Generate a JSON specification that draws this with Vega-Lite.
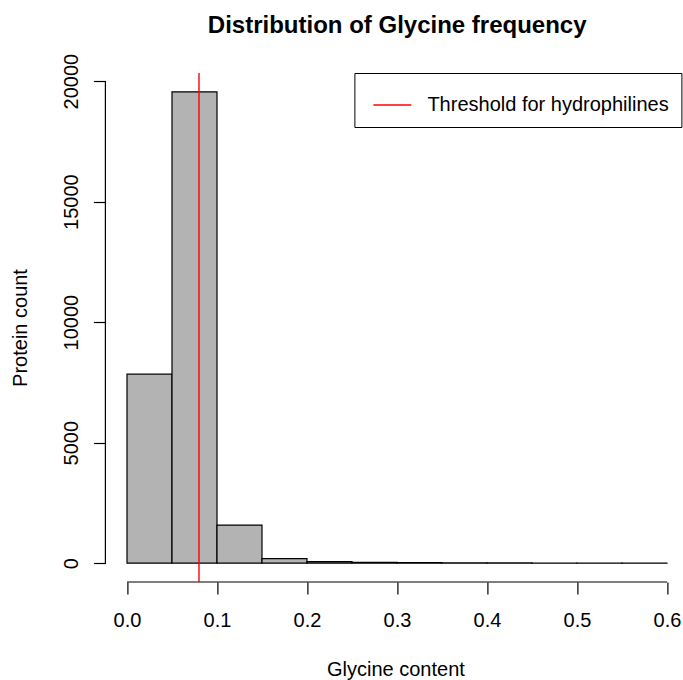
{
  "$schema": "https://vega.github.io/schema/vega-lite/v6.json",
  "width": 577.6,
  "height": 509,
  "autosize": "none",
  "padding": {"left": 105.4, "top": 73, "right": 0, "bottom": 98},
  "background": "white",
  "title": {
    "text": "Distribution of Glycine frequency",
    "font": "Liberation Sans",
    "fontSize": 24,
    "fontWeight": "bold",
    "color": "black",
    "baseline": "alphabetic",
    "offset": -4,
    "dx": 3
  },
  "config": {
    "view": {"stroke": null},
    "font": "Liberation Sans"
  },
  "datasets": {
    "bins": [
      {"start": 0.0, "end": 0.05, "count": 7840},
      {"start": 0.05, "end": 0.1, "count": 19556},
      {"start": 0.1, "end": 0.15, "count": 1580},
      {"start": 0.15, "end": 0.2, "count": 190},
      {"start": 0.2, "end": 0.25, "count": 60},
      {"start": 0.25, "end": 0.3, "count": 35},
      {"start": 0.3, "end": 0.35, "count": 20},
      {"start": 0.35, "end": 0.4, "count": 12},
      {"start": 0.4, "end": 0.45, "count": 8},
      {"start": 0.45, "end": 0.5, "count": 6},
      {"start": 0.5, "end": 0.55, "count": 3},
      {"start": 0.55, "end": 0.6, "count": 2}
    ],
    "threshold": [{"threshold": 0.08, "label": "Threshold for hydrophilines"}]
  },
  "layer": [
    {
      "data": {"name": "bins"},
      "mark": {"type": "rect", "fill": "#B3B3B3", "stroke": "black", "strokeWidth": 1.2},
      "encoding": {
        "x": {
          "field": "start", "type": "quantitative",
          "scale": {"domain": [-0.024, 0.6178], "nice": false, "zero": false},
          "axis": {
            "values": [0, 0.1, 0.2, 0.3, 0.4, 0.5, 0.6],
            "format": ".1f",
            "domain": false, "grid": false,
            "tickSize": 12, "tickColor": "black", "tickWidth": 1.2,
            "labelFontSize": 20, "labelColor": "black", "labelFont": "Liberation Sans",
            "labelBaseline": "alphabetic", "labelPadding": 32,
            "labelFlush": false, "labelOverlap": false,
            "title": "Glycine content",
            "titleFontSize": 20, "titleFontWeight": "normal", "titleColor": "black", "titleFont": "Liberation Sans",
            "titleBaseline": "alphabetic", "titleX": 290, "titleY": 93, "titleAnchor": "middle", "titleAlign": "center"
          }
        },
        "x2": {"field": "end"},
        "y": {
          "field": "count", "type": "quantitative",
          "scale": {"domain": [-782, 20338], "nice": false, "zero": false},
          "axis": {
            "values": [0, 5000, 10000, 15000, 20000],
            "format": "d",
            "domain": false, "grid": false,
            "tickSize": 12, "tickColor": "black", "tickWidth": 1.2,
            "labelFontSize": 20, "labelColor": "black", "labelFont": "Liberation Sans",
            "labelAngle": -90, "labelAlign": "center", "labelBaseline": "alphabetic", "labelPadding": 16,
            "labelFlush": false, "labelOverlap": false,
            "title": "Protein count",
            "titleFontSize": 20, "titleFontWeight": "normal", "titleColor": "black", "titleFont": "Liberation Sans",
            "titleBaseline": "alphabetic", "titleX": -79, "titleAngle": -90
          }
        },
        "y2": {"datum": 0}
      }
    },
    {
      "data": {"values": [{}]},
      "mark": {"type": "rule", "color": "black", "strokeWidth": 1.2},
      "encoding": {"x": {"datum": 0}, "x2": {"datum": 0.6}, "y": {"datum": -782}}
    },
    {
      "data": {"values": [{}]},
      "mark": {"type": "rule", "color": "black", "strokeWidth": 1.2},
      "encoding": {"x": {"datum": -0.024}, "y": {"datum": 0}, "y2": {"datum": 20000}}
    },
    {
      "data": {"name": "threshold"},
      "mark": {"type": "rule", "strokeWidth": 1.4},
      "encoding": {
        "x": {"field": "threshold", "type": "quantitative"},
        "color": {
          "field": "label", "type": "nominal",
          "scale": {"range": ["#FF0000"]},
          "legend": {
            "title": null,
            "orient": "none",
            "legendX": 249,
            "legendY": 0,
            "strokeColor": "black",
            "fillColor": "white",
            "padding": 12,
            "symbolType": "stroke",
            "symbolSize": 1444,
            "symbolOffset": 6,
            "symbolStrokeWidth": 1.4,
            "labelFontSize": 20,
            "labelFont": "Liberation Sans",
            "labelColor": "black",
            "labelOffset": 15,
            "labelLimit": 400
          }
        }
      }
    }
  ]
}
